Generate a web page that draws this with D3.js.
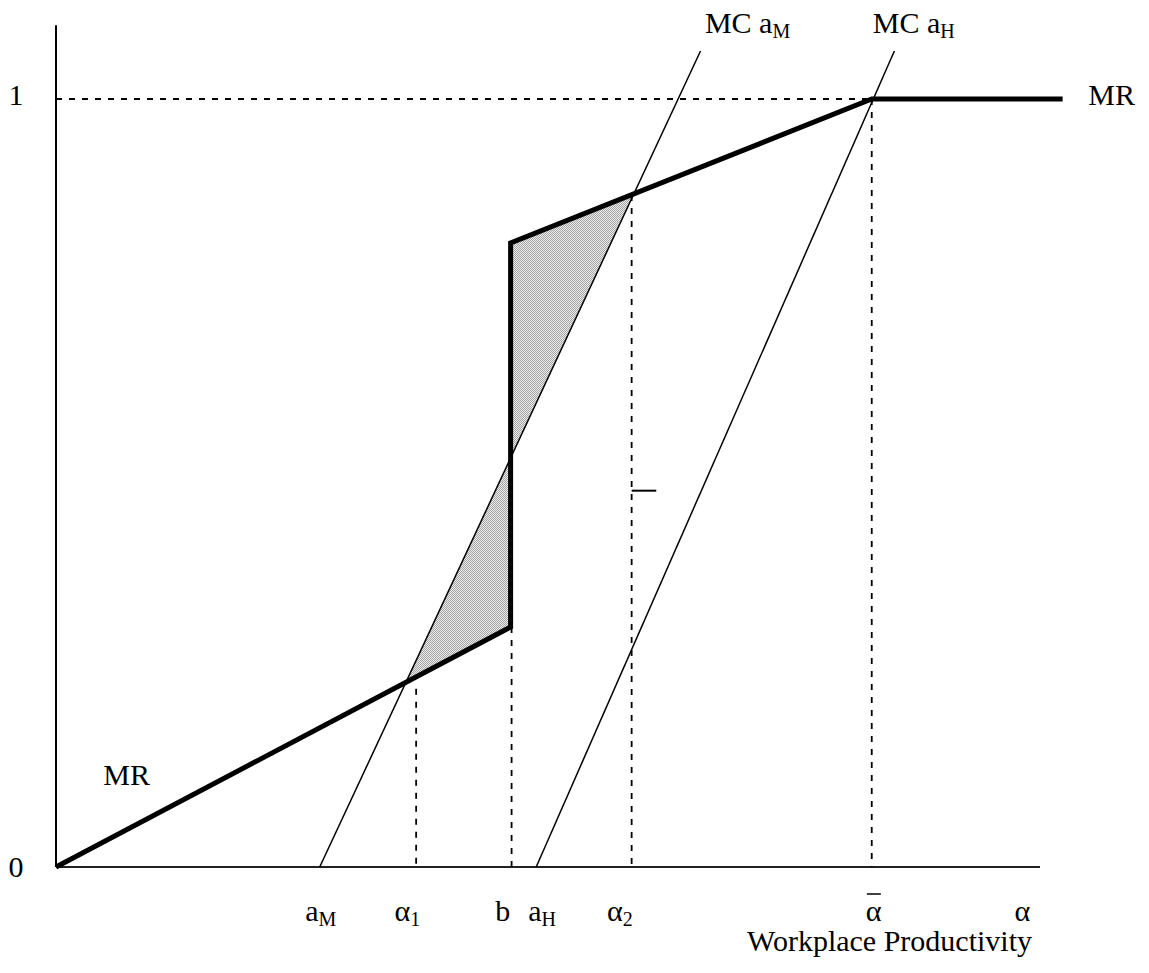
<!DOCTYPE html>
<html>
<head>
<meta charset="utf-8">
<script src="https://cdn.jsdelivr.net/npm/d3@7"></script>
<style>
  html, body { margin: 0; padding: 0; background: #fff; }
  svg { display: block; }
  text { font-family: "Liberation Serif", "Times New Roman", serif; font-size: 30px; fill: #000; }
</style>
</head>
<body>
<svg width="1149" height="973"></svg>
<script>
// marginal revenue (kinked, thick line), points [x, y]
var mrPoints = [[0, 0], [46.2, 0.3125], [46.2, 0.8125], [82.9, 1], [102.3, 1]];
// marginal cost lines for the two types
var mcM = [[26.8, 0], [65.5, 1.0625]];
var mcH = [[48.8, 0], [85.2, 1.0625]];
// dashed guides: [x, top]
var drops = [[36.6, 0.232], [46.3, 0.3125], [58.5, 0.875], [82.9, 1]];
var xTicks = [
    { x: 26.9, t: 'a', sub: 'M' },
    { x: 35.7, t: '\u03b1', sub: '1' },
    { x: 45.4, t: 'b', sub: '' },
    { x: 49.4, t: 'a', sub: 'H' },
    { x: 57.3, t: '\u03b1', sub: '2' },
    { x: 83.1, t: '\u03b1', sub: '', bar: true },
    { x: 98.2, t: '\u03b1', sub: '' }
];
var yTicks = [0, 1];

var svg = d3.select('svg');
var x = d3.scaleLinear().domain([0, 100]).range([56, 1040]);
var y = d3.scaleLinear().domain([0, 1]).range([867, 99]);
var line = d3.line()
    .x(function (d) { return x(d[0]); })
    .y(function (d) { return y(d[1]); });

// checker fill like the original
var pat = svg.append('defs').append('pattern')
    .attr('id', 'dots').attr('width', 2).attr('height', 2)
    .attr('patternUnits', 'userSpaceOnUse');
pat.append('rect').attr('width', 2).attr('height', 2).attr('fill', '#ececec');
pat.append('rect').attr('width', 1).attr('height', 1).attr('fill', '#a4a4a4');
pat.append('rect').attr('x', 1).attr('y', 1).attr('width', 1).attr('height', 1).attr('fill', '#a4a4a4');

function intersect(a, b) {
    var x1 = a[0][0], y1 = a[0][1], x2 = a[1][0], y2 = a[1][1];
    var x3 = b[0][0], y3 = b[0][1], x4 = b[1][0], y4 = b[1][1];
    var den = (x1 - x2) * (y3 - y4) - (y1 - y2) * (x3 - x4);
    var t = ((x1 - x3) * (y3 - y4) - (y1 - y3) * (x3 - x4)) / den;
    return [x1 + t * (x2 - x1), y1 + t * (y2 - y1)];
}

var lowSeg = [mrPoints[0], mrPoints[1]];
var jumpSeg = [mrPoints[1], mrPoints[2]];
var upSeg = [mrPoints[2], mrPoints[3]];
var pLow = intersect(mcM, lowSeg);
var pMid = intersect(mcM, jumpSeg);
var pUp = intersect(mcM, upSeg);

svg.append('path').datum([pLow, mrPoints[1], pMid, pLow])
    .attr('d', line).attr('fill', 'url(#dots)');
svg.append('path').datum([pMid, mrPoints[2], pUp, pMid])
    .attr('d', line).attr('fill', 'url(#dots)');

// axes
svg.append('line')
    .attr('x1', x(0)).attr('x2', x(0))
    .attr('y1', y(0)).attr('y2', y(1.096))
    .attr('stroke', '#000').attr('stroke-width', 2);
svg.append('line')
    .attr('x1', x(0)).attr('x2', x(100))
    .attr('y1', y(0)).attr('y2', y(0))
    .attr('stroke', '#222').attr('stroke-width', 2);

// dashed guides
svg.append('line')
    .attr('x1', x(0)).attr('x2', x(82.9))
    .attr('y1', y(1)).attr('y2', y(1))
    .attr('stroke', '#000').attr('stroke-width', 1.8)
    .attr('stroke-dasharray', '6,7');
svg.selectAll('.drop').data(drops).enter().append('line')
    .attr('class', 'drop')
    .attr('x1', function (d) { return x(d[0]); })
    .attr('x2', function (d) { return x(d[0]); })
    .attr('y1', function (d) { return y(d[1]); })
    .attr('y2', y(0))
    .attr('stroke', '#000').attr('stroke-width', 1.8)
    .attr('stroke-dasharray', '6,7');

// small tick on the alpha2 guide
svg.append('line')
    .attr('x1', x(58.5)).attr('x2', x(61.0))
    .attr('y1', y(0.49)).attr('y2', y(0.49))
    .attr('stroke', '#000').attr('stroke-width', 2);

// MC lines
svg.selectAll('.mc').data([mcM, mcH]).enter().append('path')
    .attr('class', 'mc')
    .attr('d', line)
    .attr('fill', 'none').attr('stroke', '#000').attr('stroke-width', 1.5);

// MR thick line
svg.append('path').datum(mrPoints)
    .attr('d', line)
    .attr('fill', 'none').attr('stroke', '#000').attr('stroke-width', 5)
    .attr('stroke-linejoin', 'miter');

// labels
function label(tx, ty, main, sub, anchor) {
    var t = svg.append('text').attr('x', tx).attr('y', ty)
        .attr('text-anchor', anchor || 'start');
    t.append('tspan').text(main);
    if (sub) t.append('tspan').attr('dy', 5).style('font-size', '20px').text(sub);
    return t;
}

label(x(65.95), y(1.086), 'MC a', 'M');
label(x(83.0), y(1.086), 'MC a', 'H');
label(x(104.9), y(0.992), 'MR');
label(x(4.8), y(0.107), 'MR');

yTicks.forEach(function (v) {
    label(16, y(v) + (v === 0 ? 10 : 6), String(v), '', 'middle');
});

xTicks.forEach(function (d) {
    var t = label(x(d.x), 921, d.t, d.sub, 'middle');
    if (d.bar) {
        var bb = t.node().getBBox();
        svg.append('line')
            .attr('x1', bb.x + 1).attr('x2', bb.x + bb.width - 1)
            .attr('y1', 894).attr('y2', 894)
            .attr('stroke', '#000').attr('stroke-width', 1.5);
    }
});

svg.append('text').attr('x', 1032).attr('y', 951)
    .attr('text-anchor', 'end').text('Workplace Productivity');
</script>
</body>
</html>
